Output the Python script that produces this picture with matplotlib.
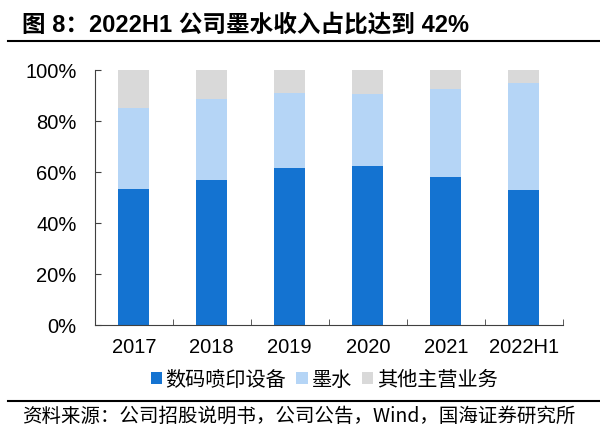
import matplotlib.pyplot as plt
import numpy as np

plt.rcParams['font.family'] = ['Liberation Sans', 'Noto Sans CJK SC', 'DejaVu Sans']

# data (share of revenue, %)
years = ['2017', '2018', '2019', '2020', '2021', '2022H1']
printer = [53.2, 56.8, 61.6, 62.3, 58.1, 52.9]
ink = [31.8, 31.8, 29.3, 28.0, 34.3, 41.8]
other = [100 - p - i for p, i in zip(printer, ink)]
labels = ['数码喷印设备', '墨水', '其他主营业务']
colors = ['#1473d1', '#b5d5f6', '#d9d9d9']

fig = plt.figure(figsize=(6, 4.35), dpi=100)
ax = fig.add_axes([0.158, 0.2506, 0.78, 0.587])

x = np.arange(len(years))
bottom = np.zeros(len(years))
for vals, lab, c in zip([printer, ink, other], labels, colors):
    ax.bar(x, vals, width=0.4, bottom=bottom, color=c, label=lab)
    bottom += np.array(vals)

ax.set_xlim(-0.5, len(years) - 0.5)
ax.set_ylim(0, 100)
ax.set_yticks(range(0, 101, 20))
ax.set_yticklabels([f'{v}%' for v in range(0, 101, 20)], fontsize=14.5)
ax.set_xticks(x)
ax.set_xticklabels(years, fontsize=14.5)
ax.set_xticks(np.arange(len(years) + 1) - 0.5, minor=True)
ax.tick_params(axis='x', which='major', length=0, pad=9)
ax.tick_params(axis='x', which='minor', length=4, direction='in', color='#404040')
ax.tick_params(axis='y', length=4, direction='in', color='#404040', pad=13)
for s in ['top', 'right']:
    ax.spines[s].set_visible(False)
for s in ['left', 'bottom']:
    ax.spines[s].set_color('#404040')

ax.legend(loc='center', bbox_to_anchor=(0.49, -0.215), ncol=3, frameon=False,
          handlelength=0.55, handleheight=0.55, handletextpad=0.2, columnspacing=0.5,
          prop={'family': ['Noto Sans CJK SC'], 'size': 14.5})

# title and footer
fig.text(0.037, 0.943, '图 8：2022H1 公司墨水收入占比达到 42%', fontsize=17, fontweight='bold',
         va='center', ha='left')
fig.add_artist(plt.Line2D([0.013, 1.0], [0.903, 0.903], color='black', lw=1.5))
fig.add_artist(plt.Line2D([0.013, 1.0], [0.076, 0.076], color='black', lw=1.5))
fig.text(0.037, 0.044, '资料来源：公司招股说明书，公司公告，Wind，国海证券研究所', fontsize=14,
         va='center', ha='left', family=['Noto Sans CJK SC'])

fig.savefig('out.png', dpi=100, facecolor='white')
